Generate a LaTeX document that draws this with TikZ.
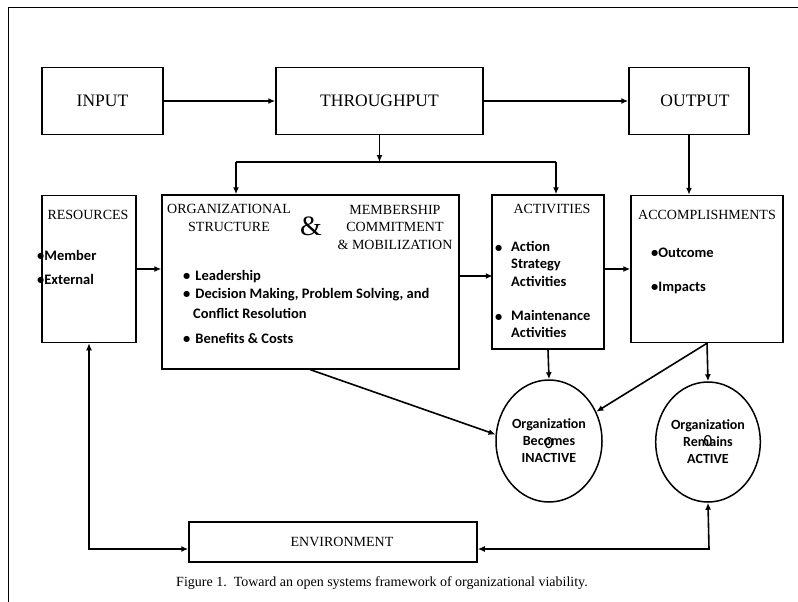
\documentclass[tikz,border=0pt]{standalone}
\usepackage{fontspec}
\setmainfont{Liberation Serif}
\newfontfamily\calfont{Carlito}
\usetikzlibrary{arrows.meta,shapes.geometric}

\tikzset{
  box/.style={draw,line width=1.5pt,inner sep=0pt},
  ttl/.style={font=\fontsize{14}{17.5}\selectfont,align=center,inner sep=0pt},
  big/.style={font=\fontsize{17.5}{20}\selectfont,inner sep=0pt},
  itm/.style={font=\calfont\bfseries\fontsize{14.5}{17.5}\selectfont,anchor=west,inner sep=0pt},
  oval/.style={draw,ellipse,line width=1.5pt,inner sep=0pt,align=center,
    font=\calfont\bfseries\fontsize{14}{17}\selectfont},
  link/.style={draw,line width=1.6pt,-{Latex[length=7pt,width=6pt]}},
  link2/.style={draw,line width=1.6pt,{Latex[length=7pt,width=6pt]}-{Latex[length=7pt,width=6pt]}},
}

\begin{document}
\begin{tikzpicture}[x=1pt,y=-1pt]
\useasboundingbox (0,0) rectangle (798,602);
\draw[line width=1pt] (8,602) -- (8,8) -- (798,8);

% top row
\node[box,big,minimum width=121,minimum height=67] (input) at (102.5,101) {INPUT};
\node[box,big,minimum width=207,minimum height=67] (thru) at (379.5,101) {THROUGHPUT};
\node[box,big,minimum width=120,minimum height=67] (output) at (689,101) {\hspace{12pt}OUTPUT};

% middle row
\node[box,minimum width=94,minimum height=147] (res) at (89,269) {};
\node[box,minimum width=297,minimum height=174] (org) at (310.5,282) {};
\node[box,minimum width=112,minimum height=154] (act) at (548,272) {};
\node[box,minimum width=152,minimum height=147] (acc) at (707,269) {};

\node[ttl] (restl) at (88,215) {RESOURCES};
\node[itm] (res1) at (37,255) {\textbullet Member};
\node[itm] (res2) at (37,279) {\textbullet External};

\node[ttl] (orgtl) at (229,218) {ORGANIZATIONAL\\STRUCTURE};
\node[inner sep=0pt,font=\fontsize{28}{28}\selectfont] (amp) at (311,226) {\&};
\node[ttl] (memtl) at (395,227) {MEMBERSHIP\\COMMITMENT\\\& MOBILIZATION};
\node[itm] (org1) at (183,277) {\textbullet\hspace{5pt}Leadership};
\node[itm] (org2) at (183,295) {\textbullet\hspace{5pt}Decision Making, Problem Solving, and};
\node[itm] (org3) at (193,313) {Conflict Resolution};
\node[itm] (org4) at (183,338) {\textbullet\hspace{5pt}Benefits \& Costs};

\node[ttl] (acttl) at (552,209) {ACTIVITIES};
\node[itm] (act1) at (495,249) {\textbullet};
\node[itm,align=left,anchor=north west] (act2) at (511,241) {Action\\Strategy\\Activities};
\node[itm] (act3) at (495,318) {\textbullet};
\node[itm,align=left,anchor=north west] (act4) at (511,310) {Maintenance\\Activities};

\node[ttl] (acctl) at (707,215) {ACCOMPLISHMENTS};
\node[itm] (acc1) at (651,253) {\textbullet Outcome};
\node[itm] (acc2) at (651,288) {\textbullet Impacts};

% outcomes
\node[oval,minimum width=106,minimum height=122] (inact) at (549,441)
  {Organization\\Becomes\\INACTIVE};
\node[oval,minimum width=102,minimum height=120] (active) at (708,442)
  {Organization\\Remains\\ACTIVE};
\node[inner sep=0pt,font=\calfont\fontsize{17}{17}\selectfont] (z1) at (549,443) {0};
\node[inner sep=0pt,font=\calfont\fontsize{17}{17}\selectfont] (z2) at (708,441) {0};

% environment
\node[box,minimum width=288,minimum height=40] (env) at (333,542) {};
\node[ttl] (envtl) at (342,542) {ENVIRONMENT};

\node[ttl] (cap) at (382,583) {Figure 1.\ \ Toward an open systems framework of organizational viability.};

% connectors
\draw[link] (input) -- (thru);
\draw[link] (thru) -- (output);
\coordinate (jl) at (236,162);
\coordinate (jr) at (556,162);
\draw[link] (thru.south) -- (thru.south |- jl);
\draw[line width=1.6pt] (jl) -- (jr);
\draw[link] (jl) -- (jl |- org.north);
\draw[link] (jr) -- (jr |- act.north);
\draw[link] (output.south) -- (output.south |- acc.north);
\draw[link] (res.east) -- (res.east -| org.west);
\draw[link] (act.west -| org.east) ++(0,4) -- ++(33,0);
\draw[link] (acc.west -| act.east) -- (acc.west);
\draw[link] (act.south) -- (inact.north);
\draw[link] (acc.south) -- (active.north);
\draw[link] (acc.south) -- (inact);
\draw[link] (org.south) -- (inact.173);
\coordinate (envl) at (89,549);
\coordinate (envr) at (709,549);
\draw[link2] (res.south) -- (envl) -- (envl -| env.west);
\draw[link2] (envr -| env.east) -- (envr) -- (active.south);
\end{tikzpicture}
\end{document}
